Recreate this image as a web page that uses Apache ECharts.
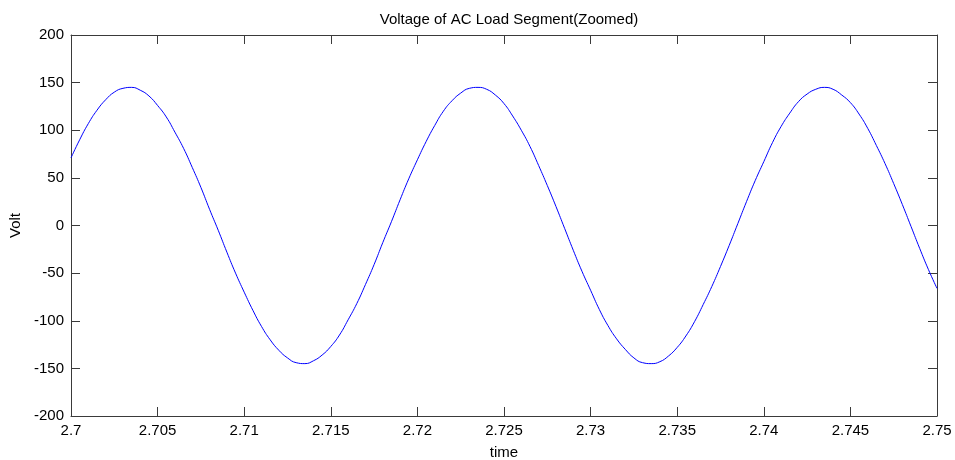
<!DOCTYPE html>
<html>
<head>
<meta charset="utf-8">
<title>Voltage of AC Load Segment</title>
<script src="https://cdn.jsdelivr.net/npm/echarts@6/dist/echarts.min.js"></script>
<style>
  html, body { margin: 0; padding: 0; background: #fff; }
  #chart { width: 955px; height: 460px; }
</style>
</head>
<body>
<div id="chart"></div>
<script>
// sample times (s)
const times = [
  2.7000, 2.7005, 2.7010, 2.7015, 2.7020, 2.7025, 2.7030, 2.7035, 2.7040, 2.7045,
  2.7050, 2.7055, 2.7060, 2.7065, 2.7070, 2.7075, 2.7080, 2.7085, 2.7090, 2.7095,
  2.7100, 2.7105, 2.7110, 2.7115, 2.7120, 2.7125, 2.7130, 2.7135, 2.7140, 2.7145,
  2.7150, 2.7155, 2.7160, 2.7165, 2.7170, 2.7175, 2.7180, 2.7185, 2.7190, 2.7195,
  2.7200, 2.7205, 2.7210, 2.7215, 2.7220, 2.7225, 2.7230, 2.7235, 2.7240, 2.7245,
  2.7250, 2.7255, 2.7260, 2.7265, 2.7270, 2.7275, 2.7280, 2.7285, 2.7290, 2.7295,
  2.7300, 2.7305, 2.7310, 2.7315, 2.7320, 2.7325, 2.7330, 2.7335, 2.7340, 2.7345,
  2.7350, 2.7355, 2.7360, 2.7365, 2.7370, 2.7375, 2.7380, 2.7385, 2.7390, 2.7395,
  2.7400, 2.7405, 2.7410, 2.7415, 2.7420, 2.7425, 2.7430, 2.7435, 2.7440, 2.7445,
  2.7450, 2.7455, 2.7460, 2.7465, 2.7470, 2.7475, 2.7480, 2.7485, 2.7490, 2.7495,
  2.7500
];

// load voltage (V)
const volts = [
  71, 90, 107, 121, 132, 140, 144, 145, 142, 136,
  126, 114, 98, 81, 61, 40, 17, -5, -28, -50,
  -70, -89, -106, -120, -131, -139, -144, -145, -142, -136,
  -127, -115, -99, -82, -62, -41, -18, 4, 27, 49,
  69, 88, 105, 120, 131, 139, 144, 145, 143, 137,
  128, 115, 100, 83, 63, 42, 20, -3, -26, -48,
  -68, -88, -105, -119, -130, -139, -144, -145, -143, -137,
  -128, -116, -101, -83, -64, -43, -21, 2, 25, 47,
  67, 87, 104, 118, 130, 138, 143, 145, 143, 137,
  129, 117, 102, 84, 65, 44, 22, -1, -24, -46,
  -66
];

const xTicks = { min: 2.7, max: 2.75, interval: 0.005 };
const yTicks = { min: -200, max: 200, interval: 50 };

const font = 'Liberation Sans, Arial, sans-serif';
const frameColor = '#3a3a3a';

const chart = echarts.init(document.getElementById('chart'), null, { renderer: 'canvas' });

const frameAxis = (extra) => Object.assign({
  type: 'value',
  axisLine: { show: true, onZero: false, lineStyle: { color: frameColor, width: 1 } },
  axisTick: { show: true, inside: true, length: 9, lineStyle: { color: frameColor } },
  splitLine: { show: false },
}, extra);

const option = {
  animation: false,
  backgroundColor: '#fff',
  title: {
    text: 'Voltage of AC Load Segment(Zoomed)',
    left: 504,
    top: 7,
    textAlign: 'center',
    textStyle: { fontFamily: font, fontSize: 15, fontWeight: 'normal', color: '#000' },
  },
  grid: { left: 71, right: 18, top: 35, bottom: 44, outerBoundsMode: 'none', containLabel: false },
  xAxis: [
    frameAxis({
      position: 'bottom',
      ...xTicks,
      name: 'time',
      nameLocation: 'middle',
      nameGap: 29,
      nameTextStyle: { fontFamily: font, fontSize: 15, color: '#000' },
      axisLabel: {
        show: true, margin: 7, fontFamily: font, fontSize: 15, color: '#000',
        formatter: v => String(+v.toFixed(3)),
        showMinLabel: true, showMaxLabel: true,
      },
    }),
    frameAxis({ position: 'top', ...xTicks, axisLabel: { show: false } }),
  ],
  yAxis: [
    frameAxis({
      position: 'left',
      ...yTicks,
      name: 'Volt',
      nameLocation: 'middle',
      nameGap: 45,
      nameTextStyle: { fontFamily: font, fontSize: 15, color: '#000' },
      axisLabel: { show: true, margin: 7, fontFamily: font, fontSize: 15, color: '#000' },
    }),
    frameAxis({ position: 'right', ...yTicks, axisLabel: { show: false } }),
  ],
  series: [
    {
      type: 'line',
      data: times.map((t, i) => [t, volts[i]]),
      showSymbol: false,
      smooth: true,
      lineStyle: { color: '#0000ff', width: 1 },
      itemStyle: { color: '#0000ff' },
    },
  ],
};

chart.setOption(option);
</script>
</body>
</html>
